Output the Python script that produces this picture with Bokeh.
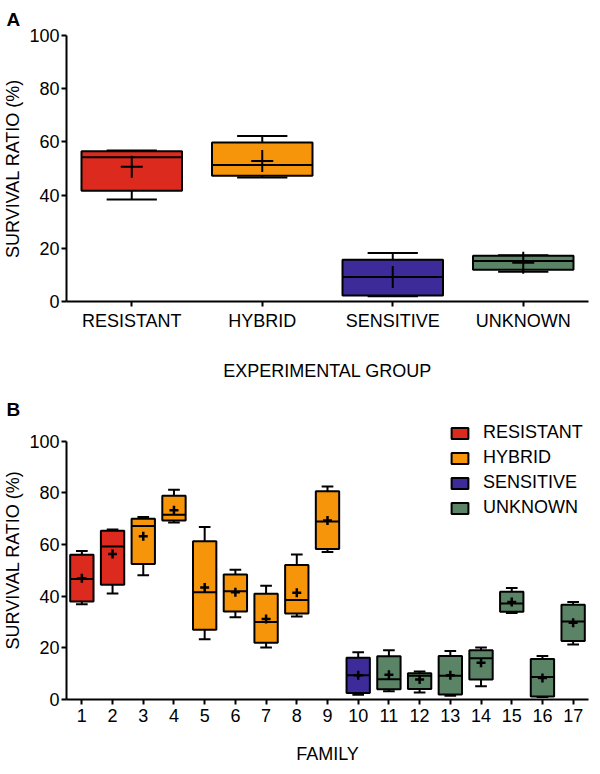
import numpy as np
from bokeh.plotting import figure
from bokeh.models import ColumnDataSource, FixedTicker, Range1d, Legend, LegendItem, Title
from bokeh.layouts import column
from bokeh.embed import file_html
from bokeh.resources import INLINE

FONT = "Liberation Sans"

# ---------------- data ----------------
GROUPS = ["RESISTANT", "HYBRID", "SENSITIVE", "UNKNOWN"]
GROUP_COLORS = {"RESISTANT": "#DC2A1F", "HYBRID": "#F7950A",
                "SENSITIVE": "#3C2B98", "UNKNOWN": "#5A8465"}

# Panel A: by experimental group
a_low = [38.3, 46.6, 2.0, 11.2]
a_q1 = [41.6, 47.3, 2.3, 11.9]
a_med = [54.2, 51.3, 9.2, 15.2]
a_q3 = [56.5, 59.8, 15.7, 17.2]
a_high = [56.8, 62.2, 18.2, 17.4]
a_mean = [50.7, 52.8, 9.2, 14.6]

# Panel B: by family
families = [1, 2, 3, 4, 5, 6, 7, 8, 9, 10, 11, 12, 13, 14, 15, 16, 17]
family_group = ["RESISTANT", "RESISTANT",
                "HYBRID", "HYBRID", "HYBRID", "HYBRID", "HYBRID", "HYBRID", "HYBRID",
                "SENSITIVE",
                "UNKNOWN", "UNKNOWN", "UNKNOWN", "UNKNOWN", "UNKNOWN", "UNKNOWN", "UNKNOWN"]
b_low = [36.9, 41.0, 48.1, 68.5, 23.3, 31.8, 20.1, 32.1, 57.1, 1.8, 3.2, 2.7, 1.5, 5.1, 33.5, 1.0, 21.3]
b_q1 = [37.9, 44.4, 52.5, 69.3, 27.0, 34.1, 22.0, 33.3, 58.3, 2.5, 4.0, 4.1, 1.9, 7.7, 34.0, 1.2, 22.6]
b_med = [46.6, 59.2, 67.2, 71.5, 41.5, 41.9, 30.0, 38.5, 68.9, 9.4, 7.8, 9.2, 9.2, 16.0, 37.2, 8.7, 30.2]
b_q3 = [56.0, 65.3, 70.0, 78.9, 61.3, 48.4, 40.9, 52.1, 80.6, 16.2, 16.7, 10.2, 16.8, 19.1, 41.7, 15.7, 36.7]
b_high = [57.5, 65.8, 70.6, 81.2, 66.8, 50.2, 44.0, 56.1, 82.5, 18.3, 19.1, 10.8, 18.8, 20.1, 43.2, 16.8, 37.7]
b_mean = [46.9, 56.3, 63.2, 73.3, 43.4, 41.5, 31.2, 41.3, 69.3, 9.4, 9.6, 7.7, 9.4, 14.2, 37.7, 8.3, 29.7]

y_ticks = [0, 20, 40, 60, 80, 100]


def style(p, xlabel, xticks, xlabel_standoff):
    p.outline_line_color = None
    p.xgrid.visible = False
    p.ygrid.visible = False
    for ax in (p.xaxis[0], p.yaxis[0]):
        ax.axis_line_width = 2
        ax.axis_line_color = "black"
        ax.major_tick_line_width = 2
        ax.major_tick_line_color = "black"
        ax.major_tick_in = 0
        ax.major_tick_out = 5
        ax.minor_tick_line_color = None
        ax.major_label_text_font = FONT
        ax.major_label_text_font_size = "18px"
        ax.major_label_text_color = "black"
        ax.axis_label_text_font = FONT
        ax.axis_label_text_font_size = "18px"
        ax.axis_label_text_font_style = "normal"
        ax.axis_label_text_color = "black"
    p.yaxis[0].ticker = FixedTicker(ticks=y_ticks)
    p.yaxis[0].axis_label = "SURVIVAL RATIO (%)"
    p.yaxis[0].major_label_standoff = 2
    p.yaxis[0].axis_label_standoff = 3
    p.xaxis[0].ticker = FixedTicker(ticks=xticks)
    p.xaxis[0].axis_label = xlabel
    p.xaxis[0].major_label_standoff = 4
    p.xaxis[0].axis_label_standoff = xlabel_standoff


def draw_boxes(p, xs, low, q1, med, q3, high, mean, colors, box_w, cap_w, mean_size, mean_lw):
    x = np.array(xs, dtype=float)
    src = ColumnDataSource(dict(
        x=x, low=low, q1=q1, med=med, q3=q3, high=high, mean=mean, color=colors,
        bl=x - box_w / 2, br=x + box_w / 2, cl=x - cap_w / 2, cr=x + cap_w / 2))
    kw = dict(source=src, line_color="black", line_width=2)
    p.segment("x", "q3", "x", "high", **kw)
    p.segment("x", "low", "x", "q1", **kw)
    p.segment("cl", "high", "cr", "high", **kw)
    p.segment("cl", "low", "cr", "low", **kw)
    r = p.vbar(x="x", width=box_w, top="q3", bottom="q1", fill_color="color", **kw)
    p.segment("bl", "med", "br", "med", **kw)
    p.scatter("x", "mean", marker="cross", size=mean_size, line_width=mean_lw,
              line_color="black", source=src)
    return r


# ---------------- panel A ----------------
pA = figure(width=590, height=383, x_range=Range1d(0.5, 4.5), y_range=Range1d(0, 100),
            output_backend="svg", toolbar_location=None,
            min_border_left=57, min_border_right=2, min_border_top=34, min_border_bottom=80)
pA.title = Title(text="A", align="left", offset=-60, standoff=12,
                 text_font=FONT, text_font_size="19px", text_font_style="bold",
                 text_color="black")
xa = [1, 2, 3, 4]
style(pA, "EXPERIMENTAL GROUP", xa, 27)
pA.xaxis[0].major_label_overrides = {i + 1: g for i, g in enumerate(GROUPS)}
draw_boxes(pA, xa, a_low, a_q1, a_med, a_q3, a_high, a_mean,
           [GROUP_COLORS[g] for g in GROUPS], 0.77, 0.385, 22, 2)

# ---------------- panel B ----------------
pB = figure(width=590, height=383, x_range=Range1d(0.5, 17.5), y_range=Range1d(0, 108),
            output_backend="svg", toolbar_location=None,
            min_border_left=57, min_border_right=2, min_border_top=37, min_border_bottom=66)
pB.title = Title(text="B", align="left", offset=-60, standoff=1,
                 text_font=FONT, text_font_size="19px", text_font_style="bold",
                 text_color="black")
style(pB, "FAMILY", families, 19)
pB.yaxis[0].bounds = (0, 100)
rB = draw_boxes(pB, families, b_low, b_q1, b_med, b_q3, b_high, b_mean,
                [GROUP_COLORS[g] for g in family_group], 0.76, 0.38, 9, 2.5)

items = [LegendItem(label=g, renderers=[rB], index=family_group.index(g)) for g in GROUPS]
legend = Legend(items=items, location=(383, 181), orientation="vertical",
                glyph_width=21, glyph_height=14, label_height=21, spacing=4,
                label_standoff=13, padding=0, margin=0,
                label_text_font=FONT, label_text_font_size="18px",
                label_text_color="black",
                border_line_color=None, background_fill_alpha=0)
pB.add_layout(legend, "center")

layout = column(pA, pB, spacing=0)
open("out.html", "w").write(file_html(layout, INLINE))
